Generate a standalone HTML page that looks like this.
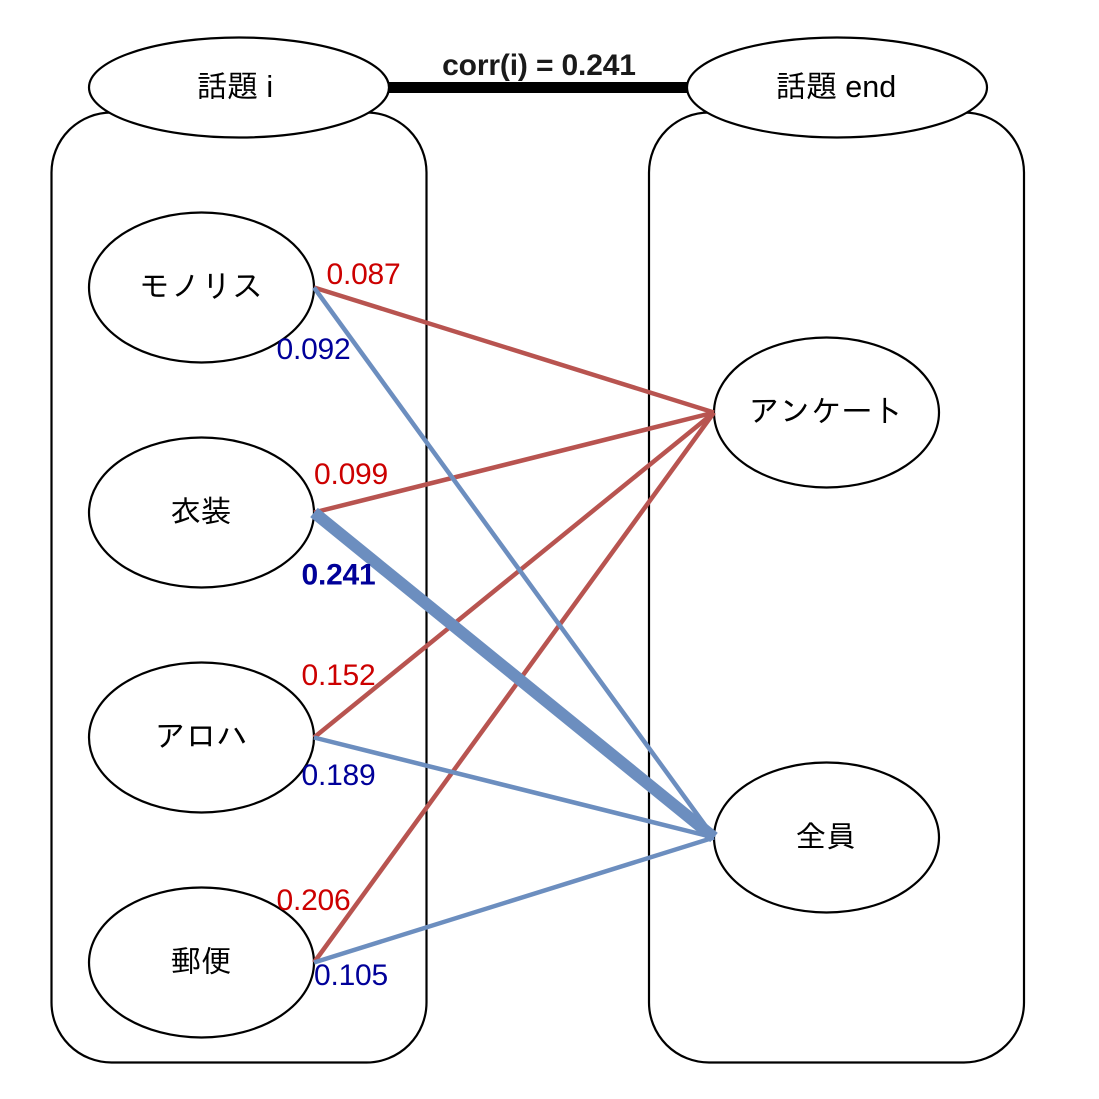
<!DOCTYPE html>
<html><head><meta charset="utf-8"><style>html,body{margin:0;padding:0;background:#fff}svg{display:block}
text{font-family:"Liberation Sans",sans-serif}
.cjk{font-family:"Liberation Sans","IPAGothic","Noto Sans CJK JP",sans-serif}
.num{letter-spacing:-0.2px}</style></head><body>
<svg width="1099" height="1099" viewBox="0 0 1099 1099" xmlns="http://www.w3.org/2000/svg">
<rect width="1099" height="1099" fill="#fff"/>
<g fill="none" stroke="#000" stroke-width="2.2">
<rect x="51.500" y="112.500" width="375" height="950" rx="60" ry="60"/>
<rect x="649" y="112.500" width="375" height="950" rx="60" ry="60"/>
</g>
<line x1="388" y1="87.500" x2="688" y2="87.500" stroke="#000" stroke-width="11"/>
<g fill="#fff" stroke="#000" stroke-width="2.2">
<ellipse cx="239" cy="87.500" rx="150" ry="50"/>
<ellipse cx="837" cy="87.500" rx="150" ry="50"/>
<ellipse cx="201.500" cy="287.500" rx="112.500" ry="75"/>
<ellipse cx="201.500" cy="512.500" rx="112.500" ry="75"/>
<ellipse cx="201.500" cy="737.500" rx="112.500" ry="75"/>
<ellipse cx="201.500" cy="962.500" rx="112.500" ry="75"/>
<ellipse cx="826.500" cy="412.500" rx="112.500" ry="75"/>
<ellipse cx="826.500" cy="837.500" rx="112.500" ry="75"/>
</g>
<g stroke-linecap="butt" fill="none">
<g stroke="#b85450" stroke-width="4.500">
<line x1="314" y1="287.500" x2="714" y2="412.500"/>
<line x1="314" y1="512.500" x2="714" y2="412.500"/>
<line x1="314" y1="737.500" x2="714" y2="412.500"/>
<line x1="314" y1="962.500" x2="714" y2="412.500"/>
</g>
<g stroke="#6c8ebf">
<line x1="314" y1="287.500" x2="714" y2="837.500" stroke-width="4.500"/>
<line x1="314" y1="512.500" x2="714" y2="837.500" stroke-width="12"/>
<line x1="314" y1="737.500" x2="714" y2="837.500" stroke-width="4.500"/>
<line x1="314" y1="962.500" x2="714" y2="837.500" stroke-width="4.500"/>
</g>
</g>
<g text-anchor="middle" fill="#000">
<text class="cjk" font-size="30.500" x="235" y="97">話題 i</text>
<text class="cjk" font-size="30.500" x="836" y="97">話題 end</text>
<text class="cjk" font-size="31" x="201" y="297">モノリス</text>
<text class="cjk" font-size="30.500" x="201" y="522">衣装</text>
<text class="cjk" font-size="31" x="201" y="747">アロハ</text>
<text class="cjk" font-size="30.500" x="201" y="972">郵便</text>
<text class="cjk" font-size="31" x="826" y="422">アンケート</text>
<text class="cjk" font-size="30.500" x="826" y="847">全員</text>
</g>
<text x="539" y="75" font-size="30" font-weight="bold" text-anchor="middle" fill="#1a1a1a" letter-spacing="-0.15">corr(i) = 0.241</text>
<g font-size="30" text-anchor="middle" class="num">
<g fill="#cc0000">
<text x="363.500" y="284">0.087</text>
<text x="351" y="484">0.099</text>
<text x="338.500" y="685">0.152</text>
<text x="313.500" y="910">0.206</text>
</g>
<g fill="#000099">
<text x="313.500" y="359">0.092</text>
<text x="338.500" y="584.500" font-weight="bold">0.241</text>
<text x="338.500" y="785">0.189</text>
<text x="351" y="985">0.105</text>
</g>
</g>
</svg>
</body></html>
